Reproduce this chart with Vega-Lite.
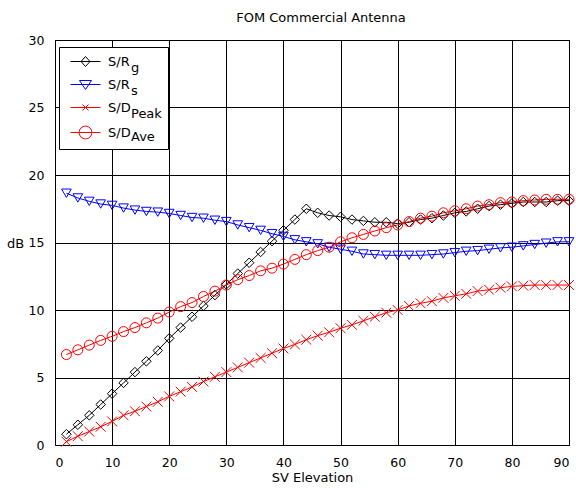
{
  "$schema": "https://vega.github.io/schema/vega-lite/v6.json",
  "width": 514,
  "height": 405,
  "autosize": {"type": "none"},
  "padding": {"left": 55, "top": 40, "right": 7, "bottom": 46},
  "background": "white",
  "config": {
    "font": "DejaVu Sans",
    "view": {"stroke": "black", "strokeWidth": 1},
    "axis": {
      "domain": false,
      "grid": true,
      "gridColor": "black",
      "gridWidth": 1,
      "gridOpacity": 1,
      "ticks": false,
      "labelFont": "DejaVu Sans",
      "labelFontSize": 12.5,
      "labelColor": "black",
      "labelPadding": 11,
      "titleFont": "DejaVu Sans",
      "titleFontSize": 13,
      "titleFontWeight": "normal",
      "titleColor": "black"
    },
    "legend": {"labelFont": "DejaVu Sans", "labelFontSize": 13, "labelColor": "black"}
  },
  "title": {
    "text": "FOM Commercial Antenna",
    "font": "DejaVu Sans",
    "fontSize": 13,
    "fontWeight": "normal",
    "color": "black",
    "anchor": "middle",
    "frame": "group",
    "baseline": "bottom",
    "offset": 16,
    "dx": 9,
    "dy": 20
  },
  "data": {
    "values": [
      {"elev": 2, "Rg": 0.8, "Rs": 18.65, "DPeak": 0.25, "DAve": 6.7},
      {"elev": 4, "Rg": 1.5, "Rs": 18.3, "DPeak": 0.65, "DAve": 7.05},
      {"elev": 6, "Rg": 2.2, "Rs": 18.05, "DPeak": 1.0, "DAve": 7.4},
      {"elev": 8, "Rg": 3.0, "Rs": 17.85, "DPeak": 1.35, "DAve": 7.75},
      {"elev": 10, "Rg": 3.8, "Rs": 17.75, "DPeak": 1.75, "DAve": 8.05},
      {"elev": 12, "Rg": 4.6, "Rs": 17.55, "DPeak": 2.2, "DAve": 8.4},
      {"elev": 14, "Rg": 5.4, "Rs": 17.4, "DPeak": 2.5, "DAve": 8.7},
      {"elev": 16, "Rg": 6.2, "Rs": 17.3, "DPeak": 2.85, "DAve": 9.05},
      {"elev": 18, "Rg": 7.0, "Rs": 17.25, "DPeak": 3.2, "DAve": 9.4},
      {"elev": 20, "Rg": 7.9, "Rs": 17.15, "DPeak": 3.6, "DAve": 9.85},
      {"elev": 22, "Rg": 8.7, "Rs": 17.0, "DPeak": 3.95, "DAve": 10.25},
      {"elev": 24, "Rg": 9.5, "Rs": 16.85, "DPeak": 4.3, "DAve": 10.55},
      {"elev": 26, "Rg": 10.3, "Rs": 16.8, "DPeak": 4.7, "DAve": 11.0},
      {"elev": 28, "Rg": 11.1, "Rs": 16.65, "DPeak": 5.05, "DAve": 11.4},
      {"elev": 30, "Rg": 11.9, "Rs": 16.55, "DPeak": 5.4, "DAve": 11.85},
      {"elev": 32, "Rg": 12.7, "Rs": 16.3, "DPeak": 5.75, "DAve": 12.25},
      {"elev": 34, "Rg": 13.5, "Rs": 16.1, "DPeak": 6.1, "DAve": 12.55},
      {"elev": 36, "Rg": 14.3, "Rs": 15.9, "DPeak": 6.45, "DAve": 12.9},
      {"elev": 38, "Rg": 15.1, "Rs": 15.65, "DPeak": 6.8, "DAve": 13.1},
      {"elev": 40, "Rg": 15.9, "Rs": 15.45, "DPeak": 7.15, "DAve": 13.4},
      {"elev": 42, "Rg": 16.7, "Rs": 15.2, "DPeak": 7.45, "DAve": 13.75},
      {"elev": 44, "Rg": 17.5, "Rs": 15.05, "DPeak": 7.8, "DAve": 14.1},
      {"elev": 46, "Rg": 17.2, "Rs": 14.9, "DPeak": 8.1, "DAve": 14.4},
      {"elev": 48, "Rg": 17.0, "Rs": 14.65, "DPeak": 8.35, "DAve": 14.65},
      {"elev": 50, "Rg": 16.9, "Rs": 14.5, "DPeak": 8.65, "DAve": 15.05},
      {"elev": 52, "Rg": 16.7, "Rs": 14.35, "DPeak": 8.9, "DAve": 15.35},
      {"elev": 54, "Rg": 16.6, "Rs": 14.15, "DPeak": 9.2, "DAve": 15.6},
      {"elev": 56, "Rg": 16.5, "Rs": 14.1, "DPeak": 9.5, "DAve": 15.85},
      {"elev": 58, "Rg": 16.5, "Rs": 14.05, "DPeak": 9.8, "DAve": 16.1},
      {"elev": 60, "Rg": 16.4, "Rs": 14.05, "DPeak": 10.0, "DAve": 16.3},
      {"elev": 62, "Rg": 16.5, "Rs": 14.05, "DPeak": 10.3, "DAve": 16.55},
      {"elev": 64, "Rg": 16.7, "Rs": 14.05, "DPeak": 10.5, "DAve": 16.8},
      {"elev": 66, "Rg": 16.8, "Rs": 14.1, "DPeak": 10.65, "DAve": 16.95},
      {"elev": 68, "Rg": 17.0, "Rs": 14.15, "DPeak": 10.9, "DAve": 17.2},
      {"elev": 70, "Rg": 17.2, "Rs": 14.25, "DPeak": 11.05, "DAve": 17.35},
      {"elev": 72, "Rg": 17.3, "Rs": 14.35, "DPeak": 11.2, "DAve": 17.5},
      {"elev": 74, "Rg": 17.5, "Rs": 14.4, "DPeak": 11.4, "DAve": 17.7},
      {"elev": 76, "Rg": 17.7, "Rs": 14.5, "DPeak": 11.5, "DAve": 17.8},
      {"elev": 78, "Rg": 17.8, "Rs": 14.6, "DPeak": 11.65, "DAve": 17.95},
      {"elev": 80, "Rg": 17.9, "Rs": 14.65, "DPeak": 11.75, "DAve": 18.0},
      {"elev": 82, "Rg": 18.0, "Rs": 14.75, "DPeak": 11.8, "DAve": 18.1},
      {"elev": 84, "Rg": 18.0, "Rs": 14.85, "DPeak": 11.85, "DAve": 18.15},
      {"elev": 86, "Rg": 18.0, "Rs": 14.95, "DPeak": 11.85, "DAve": 18.2},
      {"elev": 88, "Rg": 18.1, "Rs": 15.05, "DPeak": 11.85, "DAve": 18.2},
      {"elev": 90, "Rg": 18.1, "Rs": 15.05, "DPeak": 11.85, "DAve": 18.2}
    ]
  },
  "transform": [{"fold": ["Rg", "Rs", "DPeak", "DAve"], "as": ["series", "value"]}],
  "encoding": {
    "x": {
      "field": "elev",
      "type": "quantitative",
      "scale": {"domain": [0, 90], "nice": false, "zero": false},
      "axis": {"title": "SV Elevation", "values": [0, 10, 20, 30, 40, 50, 60, 70, 80, 90], "titlePadding": 3}
    },
    "y": {
      "field": "value",
      "type": "quantitative",
      "scale": {"domain": [0, 30], "nice": false},
      "axis": {
        "title": "dB",
        "values": [0, 5, 10, 15, 20, 25, 30],
        "titleAngle": 0,
        "titleAlign": "center",
        "titleBaseline": "middle",
        "titleX": -40,
        "titleY": 203
      }
    }
  },
  "layer": [
    {
      "mark": {"type": "line", "strokeWidth": 1},
      "encoding": {
        "color": {
          "field": "series",
          "type": "nominal",
          "scale": {
            "domain": ["Rg", "Rs", "DPeak", "DAve", "S/R_g", "S/R_s", "S/D_Peak", "S/D_Ave"],
            "range": ["#000000", "#0000ff", "#ff0000", "#ff0000", "#000000", "#0000ff", "#ff0000", "#ff0000"]
          }
        }
      }
    },
    {
      "mark": {"type": "point", "filled": false, "strokeWidth": 1, "opacity": 1},
      "encoding": {
        "color": {
          "field": "series",
          "type": "nominal",
          "scale": {
            "domain": ["Rg", "Rs", "DPeak", "DAve", "S/R_g", "S/R_s", "S/D_Peak", "S/D_Ave"],
            "range": ["#000000", "#0000ff", "#ff0000", "#ff0000", "#000000", "#0000ff", "#ff0000", "#ff0000"]
          }
        },
        "shape": {
          "field": "series",
          "type": "nominal",
          "scale": {
            "domain": ["Rg", "Rs", "DPeak", "DAve", "S/R_g", "S/R_s", "S/D_Peak", "S/D_Ave"],
            "range": [
              "diamond",
              "triangle-down",
              "M-1,-1L1,1M-1,1L1,-1",
              "circle",
              "M-0.6,0H5.4M2.4,-1L3.3,0L2.4,1L1.5,0Z",
              "M-0.6,0H5.4M1.2,-0.8H3.6L2.4,1Z",
              "M-0.6,0H5.4M1.8,-0.6L3,0.6M1.8,0.6L3,-0.6",
              "M-0.6,0H5.4M1.13,0A1.27,1.27 0 1,0 3.67,0A1.27,1.27 0 1,0 1.13,0"
            ]
          }
        },
        "size": {
          "field": "series",
          "type": "nominal",
          "scale": {"domain": ["Rg", "Rs", "DPeak", "DAve"], "range": [90, 100, 32, 160]},
          "legend": null
        }
      }
    },
    {
      "transform": [{"filter": "false"}],
      "mark": {"type": "point", "filled": false, "strokeWidth": 1, "opacity": 1},
      "encoding": {
        "color": {
          "field": "entry",
          "type": "nominal",
          "scale": {
            "domain": ["Rg", "Rs", "DPeak", "DAve", "S/R_g", "S/R_s", "S/D_Peak", "S/D_Ave"],
            "range": ["#000000", "#0000ff", "#ff0000", "#ff0000", "#000000", "#0000ff", "#ff0000", "#ff0000"]
          },
          "legend": {
            "title": null,
            "values": ["S/R_g", "S/R_s", "S/D_Peak", "S/D_Ave"],
            "orient": "none",
            "legendX": 4,
            "legendY": 7,
            "zindex": 0,
            "padding": 8,
            "rowPadding": 9,
            "labelOffset": 28,
            "labelLimit": 300,
            "symbolSize": 100,
            "symbolStrokeWidth": 1,
            "symbolFillColor": "transparent",
            "strokeColor": "black",
            "fillColor": "white",
            "labelExpr": "split(datum.value, '_')[0] + '\u00a0\u00a0\u00a0\u00a0\u00a0\u00a0\u00a0\u200b'"
          }
        },
        "shape": {
          "field": "entry",
          "type": "nominal",
          "scale": {
            "domain": ["Rg", "Rs", "DPeak", "DAve", "S/R_g", "S/R_s", "S/D_Peak", "S/D_Ave"],
            "range": [
              "diamond",
              "triangle-down",
              "M-1,-1L1,1M-1,1L1,-1",
              "circle",
              "M-0.6,0H5.4M2.4,-1L3.3,0L2.4,1L1.5,0Z",
              "M-0.6,0H5.4M1.2,-0.8H3.6L2.4,1Z",
              "M-0.6,0H5.4M1.8,-0.6L3,0.6M1.8,0.6L3,-0.6",
              "M-0.6,0H5.4M1.13,0A1.27,1.27 0 1,0 3.67,0A1.27,1.27 0 1,0 1.13,0"
            ]
          },
          "legend": {
            "title": null,
            "values": ["S/R_g", "S/R_s", "S/D_Peak", "S/D_Ave"],
            "orient": "none",
            "legendX": 4,
            "legendY": 7,
            "zindex": 0,
            "padding": 8,
            "rowPadding": 9,
            "labelOffset": 28,
            "labelLimit": 300,
            "symbolSize": 100,
            "symbolStrokeWidth": 1,
            "symbolFillColor": "transparent",
            "strokeColor": "black",
            "fillColor": "white",
            "labelExpr": "split(datum.value, '_')[0] + '\u00a0\u00a0\u00a0\u00a0\u00a0\u00a0\u00a0\u200b'"
          }
        },
        "strokeDash": {
          "field": "entry",
          "type": "nominal",
          "scale": {"domain": ["S/R_g", "S/R_s", "S/D_Peak", "S/D_Ave"]},
          "legend": {
            "title": null,
            "orient": "none",
            "legendX": 63,
            "legendY": 21,
            "zindex": 1,
            "padding": 0,
            "rowPadding": 9,
            "labelOffset": 0,
            "labelLimit": 300,
            "symbolSize": 0,
            "symbolStrokeWidth": 0,
            "symbolOpacity": 0,
            "labelExpr": "split(datum.value, '_')[1]"
          }
        }
      }
    }
  ]
}
